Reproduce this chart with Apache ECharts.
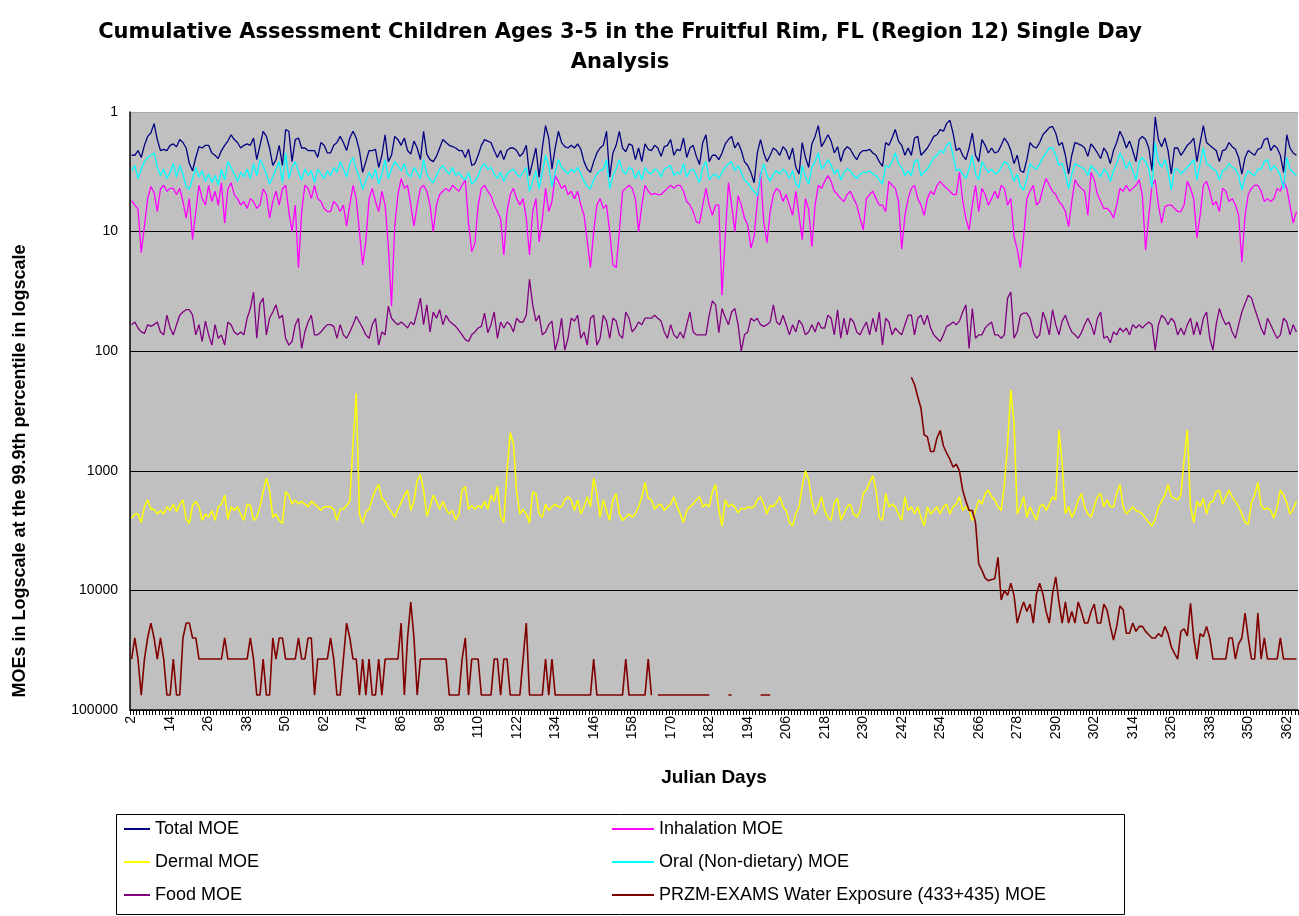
<!DOCTYPE html>
<html><head><meta charset="utf-8">
<script src="https://cdn.jsdelivr.net/npm/echarts@6/dist/echarts.min.js"></script>
<style>html,body{margin:0;padding:0;background:#fff}#c{width:1299px;height:916px}</style>
</head><body><div id="c"></div>
<script>
// Julian days 2..365
const firstDay = 2, lastDay = 365;
const days = [];
for (let d = firstDay; d <= lastDay; d++) days.push(String(d));

const yTicks = [1, 10, 100, 1000, 10000, 100000];

const totalMOE = [
2.3,2.3,2.1,2.4,1.9,1.6,1.5,1.25,1.7,2.1,2.05,2.1,
1.9,1.85,1.95,1.7,1.8,2.0,2.7,3.1,2.4,1.95,2.0,1.9,
1.9,2.2,2.3,2.45,2.1,1.9,1.75,1.55,1.7,1.8,2.0,1.9,
1.85,1.9,1.65,2.5,1.9,1.45,1.6,2.0,2.8,2.5,1.9,2.8,
1.4,1.45,2.6,1.7,1.65,2.0,2.0,2.1,2.1,2.1,2.4,1.8,
1.9,2.2,2.2,1.9,1.8,1.6,1.8,2.1,1.65,1.45,1.65,2.1,
3.2,2.6,2.1,2.1,2.05,2.9,2.3,1.55,2.6,2.3,1.6,1.7,
1.9,1.65,2.1,2.25,1.75,2.0,2.5,1.45,2.25,2.5,2.6,2.35,
2.0,1.7,1.8,1.9,1.95,2.0,2.1,2.1,2.4,2.05,2.8,2.7,
2.3,1.9,1.7,1.75,1.8,2.1,2.4,2.1,2.5,2.1,2.0,2.0,
2.1,2.35,2.2,1.9,3.4,2.6,2.0,3.5,2.0,1.3,1.65,3.0,
2.0,1.45,1.8,1.95,2.0,1.9,2.0,1.85,2.05,2.6,3.0,3.2,
2.6,2.2,2.0,1.9,1.45,3.5,2.2,1.9,1.45,2.0,2.15,1.85,
1.9,2.5,2.0,2.6,1.85,2.05,2.1,1.9,2.0,2.35,1.95,1.9,
1.7,2.3,2.05,2.1,1.65,2.4,2.0,1.9,2.35,2.75,1.8,1.55,
2.6,2.3,2.3,2.5,2.2,1.85,1.7,1.6,2.0,1.8,2.1,2.6,
2.8,3.2,3.9,2.2,1.7,2.2,2.6,2.3,2.0,2.1,2.3,1.95,
2.1,2.5,2.0,2.9,3.3,1.8,2.4,2.9,1.85,1.6,1.3,1.95,
1.75,1.55,1.75,2.2,1.95,2.6,2.1,1.95,2.05,2.3,2.5,2.2,
2.1,2.1,2.05,2.2,2.3,2.6,2.85,1.8,1.9,1.65,1.4,1.75,
1.9,2.3,2.0,2.3,1.65,1.6,2.3,2.15,2.0,1.8,1.6,1.55,
1.4,1.45,1.25,1.17,1.5,2.1,2.0,2.3,2.5,2.0,1.5,2.3,
2.6,1.7,1.9,2.2,2.0,2.2,2.15,1.9,1.65,1.8,2.1,2.7,
2.3,3.1,3.2,2.5,1.8,1.95,2.0,1.8,1.55,1.45,1.35,1.32,
1.5,1.9,1.8,2.3,3.3,2.3,1.8,1.85,1.9,2.0,2.35,1.85,
2.0,2.2,2.45,2.0,2.2,2.7,2.1,1.8,1.45,1.65,2.0,1.75,
2.1,2.6,1.7,1.6,1.7,2.0,3.1,1.1,1.7,1.95,1.65,2.1,
3.3,2.0,2.0,2.3,2.1,1.9,1.8,1.65,2.6,1.8,1.3,1.8,
1.9,2.0,2.1,2.6,2.1,2.05,1.8,1.95,2.05,2.4,3.3,2.4,
2.1,2.2,2.3,2.05,2.0,1.7,1.65,2.1,1.9,2.0,2.3,3.2,
1.55,2.0,2.2,2.3];

const inhalationMOE = [
5.5,6.0,6.5,15,9,5.3,4.2,4.7,6.8,4.4,4.1,4.6,
4.35,4.35,4.9,4.35,5.6,7.7,5.3,11.7,6.8,4.1,5.3,6.0,
4.1,5.6,4.6,6.0,3.9,8.5,4.4,3.9,4.9,5.3,6.0,5.6,
6.4,5.3,5.6,6.4,6.0,4.4,4.9,7.7,5.6,4.6,6.0,4.4,
4.1,6.8,10,6.0,20,6.8,4.1,4.35,5.3,4.1,5.3,5.6,
6.4,6.8,6.8,5.6,6.0,6.8,6.0,9.0,6.0,4.1,5.3,10,
19,12,5.3,4.35,5.6,6.8,4.6,6.0,13,42,9,4.9,
3.6,4.35,4.1,6.0,9.0,6.0,4.35,4.1,4.6,6.0,10,6.0,
4.9,4.6,4.35,4.6,4.1,4.35,4.6,4.1,3.7,8.5,14.7,12.5,
6.0,4.35,4.1,4.6,5.0,6.0,6.8,7.8,15.7,6.8,4.9,4.35,
5.3,6.0,5.3,7.7,15.7,6.8,5.3,12.2,8.0,4.35,6.8,5.6,
3.4,3.8,4.35,4.1,4.9,4.6,5.3,4.6,6.0,7.3,12,20,
10,6.0,5.3,6.4,6.0,10,19,20,10,4.6,4.35,4.1,
4.35,5.3,10,6.0,4.1,4.6,4.9,4.8,4.9,4.9,4.6,4.35,
4.1,4.35,4.1,4.1,4.6,5.6,6.0,6.8,8.3,8.5,6.0,4.35,
6.0,7.3,6.0,6.0,34,11,3.9,6.0,10,5.0,6.0,7.7,
8.8,13.7,11,5.6,3.2,8.3,12.4,6.8,4.9,4.35,4.6,5.6,
4.9,6.0,7.3,4.6,7.3,11.7,5.3,6.5,13.4,6.0,4.1,4.35,
3.8,3.4,3.8,4.6,4.9,5.3,5.6,4.9,4.6,5.3,6.0,7.7,
9.7,5.3,4.9,4.6,5.3,6.0,6.0,6.8,3.8,4.1,4.35,5.6,
14,7.3,5.3,4.35,4.1,5.3,6.0,7.3,5.3,4.6,4.9,4.1,
3.8,4.1,4.35,4.6,4.9,4.9,3.2,5.5,7.8,9.7,6.0,4.1,
6.8,4.35,4.9,6.0,5.3,4.6,5.3,4.1,4.35,6.0,5.3,11,
14,20,11,5.3,4.6,4.1,6.0,5.6,4.35,3.6,4.1,4.6,
4.9,5.6,6.0,6.8,9.1,5.6,3.7,4.1,4.35,4.6,7.3,3.2,
3.7,4.9,5.6,6.4,6.4,6.8,7.7,6.0,4.35,4.6,4.1,4.6,
4.35,4.1,3.7,5.0,14.3,7.5,4.1,3.7,6.0,8.5,6.2,6.0,
6.0,6.4,6.8,6.8,6.0,3.8,4.35,5.3,11.3,7.3,4.1,3.8,
4.6,6.0,5.6,6.8,4.35,4.6,5.6,5.3,6.0,7.3,17.9,7.3,
4.9,4.35,4.1,4.1,4.6,5.6,5.3,5.6,5.3,4.35,4.6,3.8,
4.35,6.0,8.5,6.8];

const dermalMOE = [
2500,2300,2300,2700,2000,1750,2100,2100,2300,2150,2300,2000,
2150,1900,2200,1900,1750,2550,2750,1950,1800,2000,2600,2300,
2450,2150,2600,2000,1900,1600,2550,2000,2150,2000,2300,2600,
1900,1950,2600,2450,2000,1500,1150,1450,2450,2300,2600,2750,
1500,1600,1900,1750,1900,1800,1900,2000,1800,1900,2000,2150,
2000,2000,2000,2100,2600,2100,2100,1950,1800,600,225,2300,
2750,2200,2100,1700,1450,1300,1700,1800,2050,2200,2450,2100,
1850,1600,1450,2150,1800,1200,1070,1450,2400,2000,1600,1800,
2100,1800,2100,2300,2150,2600,2300,1450,1350,2100,1950,2100,
1950,2050,1800,2100,1600,1800,1350,2400,2700,1000,480,600,
1500,2300,2100,2300,2750,1500,1550,2300,2450,1900,2150,2000,
1900,2000,2000,1750,1650,1750,2150,1750,2300,2000,1650,2000,
1150,1550,2450,1750,2150,2600,1750,1550,2300,2600,2450,2300,
2450,2300,2000,1650,1250,1700,1750,2100,1950,1900,2150,2000,
1900,1650,2000,2300,2700,2150,2000,1900,1750,1650,2000,1900,
2000,1500,1300,2100,2900,1750,2000,1900,2000,2250,2050,2100,
2000,2050,2000,1750,1650,1900,2300,1950,2000,1850,1650,2000,
2150,2700,2900,2300,2000,1350,1000,1200,1800,2300,2000,1650,
2150,2450,2600,1850,1700,2600,2300,2000,1900,2300,2450,2150,
1550,1450,1250,1100,1450,2450,2600,1550,2000,1900,2000,2300,
2600,1650,2150,2000,2300,2000,2450,2900,2000,2300,2150,2000,
2300,2000,1900,2300,2000,1900,1650,2150,2000,2150,2600,2150,
1750,1900,1550,1450,1650,1750,2000,2150,1300,600,210,400,
2300,2000,1650,2450,2000,2300,2600,2000,1900,2150,1900,1650,
1750,455,860,2300,2000,2450,2150,1750,1550,2000,2300,2450,
2000,1650,1550,2000,1750,2000,2000,1550,1300,2000,2300,2150,
2000,2150,2200,2300,2500,2700,2900,2550,2000,1800,1600,1300,
1650,1700,1750,1600,800,455,2000,2700,1800,2000,1700,2300,
1850,1800,1500,1450,1900,1650,1450,1650,1800,2000,2300,2700,
2800,1850,1600,1250,1950,2100,2050,2150,2500,2000,1450,1600,
1850,2300,2100,1800];

const oralMOE = [
3.1,2.8,3.6,3.0,2.6,2.4,2.3,2.2,2.9,3.4,3.0,3.6,
3.2,2.7,3.5,2.8,3.3,4.2,4.4,3.6,2.9,3.5,3.1,3.8,
3.3,3.9,3.4,4.1,3.0,3.7,2.6,2.9,3.3,3.8,3.2,3.5,
3.0,3.6,2.7,3.4,2.5,2.8,3.3,4.0,3.5,3.0,2.6,3.9,
2.2,3.6,2.9,2.6,3.2,3.7,3.0,3.4,3.1,3.9,3.0,3.3,
3.6,3.1,3.4,2.9,3.2,2.6,3.0,3.5,2.7,2.4,3.0,3.5,
4.4,3.8,3.2,3.6,3.0,4.0,3.3,2.5,3.6,3.0,2.6,2.8,
3.1,2.7,3.3,3.5,2.9,3.2,3.6,2.5,3.3,3.7,3.9,3.4,
3.0,2.8,3.1,3.3,2.9,3.4,3.2,3.5,3.7,3.2,4.0,3.8,
3.4,2.9,2.7,3.0,2.9,3.3,3.6,3.2,3.8,3.3,3.1,3.0,
3.3,3.5,3.2,2.9,4.6,3.8,3.1,4.4,3.2,2.3,2.8,4.2,
3.2,2.5,2.9,3.1,3.3,3.0,3.2,2.9,3.3,3.8,4.2,4.4,
3.7,3.3,3.1,3.0,2.5,4.4,3.4,3.0,2.5,3.1,3.3,2.9,
3.0,3.6,3.1,3.7,2.9,3.2,3.3,3.0,3.1,3.5,3.0,2.9,
2.8,3.4,3.2,3.3,2.7,3.5,3.1,3.0,3.4,3.9,2.9,2.6,
3.7,3.4,3.3,3.6,3.2,2.9,2.7,2.6,3.1,2.8,3.2,3.7,
3.9,4.3,4.6,5.0,3.4,2.7,3.4,3.8,3.3,3.1,3.3,3.0,
3.2,3.6,3.1,4.0,4.3,2.8,3.5,4.0,2.9,2.6,2.2,3.0,
2.8,2.5,2.8,3.3,3.0,3.7,3.2,3.0,3.1,3.4,3.6,3.3,
3.2,3.2,3.1,3.3,3.4,3.7,4.0,2.8,2.9,2.6,2.2,2.7,
2.9,3.4,3.1,3.4,2.6,2.5,3.4,3.2,3.0,2.7,2.4,2.3,
2.1,2.2,1.9,1.8,2.3,3.1,3.0,3.3,3.6,3.0,2.3,3.3,
3.7,2.6,2.9,3.2,3.0,3.3,3.2,2.9,2.6,2.7,3.1,3.8,
3.3,4.2,4.5,3.6,2.7,2.9,3.0,2.7,2.4,2.2,2.0,2.0,
2.3,2.8,2.7,3.3,4.4,3.3,2.7,2.8,2.9,3.0,3.4,2.8,
3.0,3.2,3.5,3.0,3.2,3.8,3.1,2.7,2.2,2.5,3.0,2.6,
3.1,3.7,2.6,2.4,2.6,3.0,4.3,1.8,2.6,2.9,2.5,3.1,
4.5,3.0,3.0,3.3,3.1,2.9,2.7,2.5,3.7,2.7,2.0,2.7,
2.8,3.0,3.1,3.7,3.1,3.0,2.7,2.9,3.0,3.4,4.5,3.5,
3.1,3.3,3.4,3.0,3.0,2.6,2.5,3.1,2.8,3.0,3.4,4.4,
2.4,3.0,3.2,3.4];

const foodMOE = [
60,57,64,69,71,60,62,60,57,69,73,50,
64,73,60,50,47,45,45,50,73,60,83,56,
73,89,60,78,73,89,57,60,69,73,69,73,
53,44,32,78,40,36,73,53,47,41,53,50,
78,89,83,60,53,95,69,57,50,73,73,69,
64,60,60,62,78,60,73,78,69,60,51,57,
64,73,78,60,53,89,69,73,42,53,57,60,
57,60,64,57,60,47,36,60,41,69,47,53,
45,60,50,56,59,62,67,73,80,83,73,69,
64,62,48,70,60,47,78,57,64,57,60,69,
53,57,57,50,25,41,56,50,73,69,60,56,
98,78,53,98,78,53,56,50,78,69,89,53,
50,89,78,50,56,78,53,56,73,78,47,53,
69,64,57,60,53,53,53,50,53,56,69,78,
60,73,78,69,78,60,47,69,73,73,73,73,
50,38,41,70,44,52,60,47,44,60,100,73,
69,53,56,53,60,62,60,57,41,57,60,50,
60,73,60,69,55,60,73,69,60,69,57,64,
64,50,53,73,45,78,53,73,53,57,69,73,
64,57,73,53,69,47,89,53,57,73,64,69,
73,60,50,50,73,53,50,60,50,64,73,78,
83,73,62,60,57,60,56,47,41,95,44,78,
73,73,64,60,57,73,73,78,73,36,32,78,
69,50,48,48,53,69,78,73,47,56,73,45,
60,73,56,50,60,69,73,78,70,60,53,60,
73,53,47,78,75,85,69,73,64,69,64,73,
60,64,60,64,60,57,60,98,60,50,53,60,
53,57,73,64,73,60,53,73,57,73,53,47,
78,98,60,44,53,60,57,69,78,60,47,40,
34,36,44,53,64,73,53,60,69,78,73,53,
57,73,60,69];

const waterMOE = [
37500,25000,37500,75000,37500,25000,18750,25000,37500,25000,37500,75000,
75000,37500,75000,75000,25000,18750,18750,25000,25000,37500,37500,37500,
37500,37500,37500,37500,37500,25000,37500,37500,37500,37500,37500,37500,
37500,25000,37500,75000,75000,37500,75000,75000,25000,37500,25000,25000,
37500,37500,37500,37500,25000,37500,37500,25000,25000,75000,37500,37500,
37500,37500,25000,37500,75000,75000,37500,18750,25000,37500,37500,75000,
37500,75000,37500,75000,75000,37500,75000,37500,37500,37500,37500,37500,
18750,75000,25000,12500,25000,75000,37500,37500,37500,37500,37500,37500,
37500,37500,37500,75000,75000,75000,75000,37500,25000,75000,37500,37500,
37500,75000,75000,75000,75000,37500,37500,75000,37500,37500,75000,75000,
75000,75000,37500,18750,75000,75000,75000,75000,75000,37500,75000,37500,
75000,75000,75000,75000,75000,75000,75000,75000,75000,75000,75000,75000,
37500,75000,75000,75000,75000,75000,75000,75000,75000,75000,37500,75000,
75000,75000,75000,75000,75000,37500,75000,null,75000,75000,75000,75000,
75000,75000,75000,75000,75000,75000,75000,75000,75000,75000,75000,75000,
75000,null,null,null,null,null,75000,75000,null,null,null,null,
null,null,null,null,75000,75000,75000,75000,null,null,null,null,
null,null,null,null,null,null,null,null,null,null,null,null,
null,null,null,null,null,null,null,null,null,null,null,null,
null,null,null,null,null,null,null,null,null,null,null,null,
null,null,null,165,190,240,300,500,520,690,690,530,
460,620,710,800,930,880,1000,1450,1800,2150,2150,2700,
6000,6800,7900,8300,8100,8000,5300,12000,10000,11000,8700,11000,
18750,15000,12500,15000,13000,18750,10700,8700,10700,15000,18750,10700,
7700,12500,18750,12500,18750,15000,18750,12500,15000,18750,18750,15000,
13000,18750,18750,13000,14600,20000,26000,20000,13500,14500,22800,22800,
18750,22000,20000,20000,22000,23500,25000,25000,23000,24400,20000,23000,
29600,33600,37500,22000,21000,24000,12800,25000,37500,23000,24400,20000,
25000,37500,37500,37500,37500,37500,25000,25000,37500,28000,25000,15500,
25000,37500,37500,15500,37500,25000,37500,37500,37500,37500,25000,37500,
37500,37500,37500,37500];

const seriesNames = ['Total MOE','Inhalation MOE','Dermal MOE','Oral (Non-dietary) MOE','Food MOE','PRZM-EXAMS Water Exposure (433+435) MOE'];
const seriesColors = ['#000080','#FF00FF','#FFFF00','#00FFFF','#800080','#800000'];
const seriesWidths = [1.3, 1.3, 1.5, 1.3, 1.3, 1.6];
const seriesData = [totalMOE, inhalationMOE, dermalMOE, oralMOE, foodMOE, waterMOE];

const FONT = 'Liberation Sans, Arial, sans-serif';
const chart = echarts.init(document.getElementById('c'), null, {renderer: 'canvas'});

const legendPos = [
  {left: 124, top: 820, w: 26},
  {left: 612, top: 820, w: 42},
  {left: 124, top: 853, w: 26},
  {left: 612, top: 853, w: 42},
  {left: 124, top: 886, w: 26},
  {left: 612, top: 886, w: 42}
];

chart.setOption({
  animation: false,
  backgroundColor: '#ffffff',
  title: {
    text: 'Cumulative Assessment Children Ages 3-5 in the Fruitful Rim, FL (Region 12) Single Day\nAnalysis',
    left: 615, top: 13, textAlign: 'center',
    textStyle: {fontFamily: 'DejaVu Sans, sans-serif', fontWeight: 'bold', fontSize: 21, lineHeight: 30, color: '#000'}
  },
  graphic: [{
    type: 'rect', left: 116, top: 814, z: -1,
    shape: {width: 1008, height: 100},
    style: {fill: '#fff', stroke: '#000', lineWidth: 1}
  }, {
    type: 'text', x: 20, y: 471, rotation: Math.PI / 2,
    style: {text: 'MOEs in Logscale at the 99.9th percentile in logscale',
      font: 'bold 18px Liberation Sans, Arial, sans-serif', fill: '#000',
      textAlign: 'center', textVerticalAlign: 'middle'}
  }],
  legend: seriesNames.map((n, i) => ({
    data: [n], left: legendPos[i].left, top: legendPos[i].top,
    icon: 'rect', itemWidth: legendPos[i].w, itemHeight: 2, itemGap: 5,
    padding: 0, selectedMode: false,
    textStyle: {fontFamily: FONT, fontSize: 18, color: '#000'}
  })),
  grid: {left: 130, right: 1, top: 112, bottom: 206, show: true, backgroundColor: '#C0C0C0', borderWidth: 0},
  xAxis: {
    type: 'category', data: days, boundaryGap: true,
    name: 'Julian Days', nameLocation: 'middle', nameGap: 58,
    nameTextStyle: {fontFamily: FONT, fontWeight: 'bold', fontSize: 19, color: '#000'},
    axisLine: {show: true, lineStyle: {color: '#000', width: 1.5}},
    axisTick: {show: true, interval: 0, length: 5, lineStyle: {color: '#000'}},
    axisLabel: {interval: 11, rotate: 90, margin: 6, fontFamily: FONT, fontSize: 14, color: '#000'},
    splitLine: {show: false}
  },
  yAxis: {
    type: 'log', logBase: 10, min: yTicks[0], max: yTicks[yTicks.length - 1], inverse: true,
    axisLine: {show: true, lineStyle: {color: '#000', width: 1.5}},
    axisTick: {show: false},
    axisLabel: {margin: 12, fontFamily: FONT, fontSize: 14, color: '#000',
      formatter: v => String(Math.round(v))},
    splitLine: {show: true, lineStyle: {color: ['#a8a8a8','#000','#000','#000','#000','#000'], width: 1}}
  },
  series: seriesNames.map((n, i) => ({
    name: n, type: 'line', data: seriesData[i], showSymbol: false, symbol: 'none',
    connectNulls: false, color: seriesColors[i],
    lineStyle: {color: seriesColors[i], width: seriesWidths[i]}, z: 2 + i
  }))
});
</script></body></html>
